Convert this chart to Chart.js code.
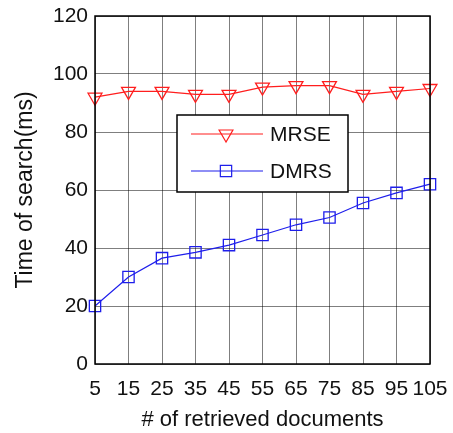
<!DOCTYPE html>
<html>
<head>
<meta charset="utf-8">
<script src="https://cdn.jsdelivr.net/npm/chart.js@4"></script>
<style>
  html, body { margin: 0; padding: 0; background: #fff; }
  #wrap { width: 453px; height: 433px; }
</style>
</head>
<body>
<div id="wrap"><canvas id="grafico" width="453" height="433"></canvas></div>
<script>
// numero de documentos recuperados
const docs = [5, 15, 25, 35, 45, 55, 65, 75, 85, 95, 105];
// tempo de busca (ms)
const mrse = [92, 94, 94, 93, 93, 95.5, 96, 96, 93, 94, 95];
const dmrs = [20, 30, 36.5, 38.5, 41, 44.5, 48, 50.5, 55.5, 59, 62];
const yTicks = [0, 20, 40, 60, 80, 100, 120];

const fonte = "'Liberation Sans', Arial, sans-serif";

// legenda dentro do grafico, estilo matlab
const legendaBox = {
  id: "legendaBox",
  afterDraw(chart) {
    const ctx = chart.ctx;
    const x0 = 177, y0 = 115, w = 171, h = 77;
    ctx.save();
    ctx.fillStyle = "#fff";
    ctx.fillRect(x0, y0, w, h);
    ctx.strokeStyle = "#000";
    ctx.lineWidth = 1.5;
    ctx.strokeRect(x0, y0, w, h);
    chart.data.datasets.forEach((ds, i) => {
      const yy = y0 + 19 + i * 37;
      ctx.strokeStyle = ds.borderColor;
      ctx.lineWidth = 1.2;
      ctx.beginPath();
      ctx.moveTo(x0 + 14, yy);
      ctx.lineTo(x0 + 86, yy);
      ctx.stroke();
      ctx.fillStyle = "rgba(0,0,0,0)";
      Chart.helpers.drawPoint(ctx, {
        pointStyle: ds.pointStyle,
        rotation: ds.pointRotation || 0,
        radius: ds.pointRadius,
        borderWidth: ds.pointBorderWidth
      }, x0 + 49, yy);
      ctx.fillStyle = "#111";
      ctx.font = "21px " + fonte;
      ctx.textBaseline = "middle";
      ctx.fillText(ds.label, x0 + 93, yy + 1);
    });
    ctx.restore();
  }
};

// moldura preta em volta da area do grafico
const moldura = {
  id: "moldura",
  afterDatasetsDraw(chart) {
    const a = chart.chartArea;
    const ctx = chart.ctx;
    ctx.save();
    ctx.strokeStyle = "#000";
    ctx.lineWidth = 1.5;
    ctx.strokeRect(a.left, a.top, a.right - a.left, a.bottom - a.top);
    ctx.restore();
  }
};

new Chart(document.getElementById("grafico"), {
  type: "line",
  data: {
    datasets: [
      {
        label: "MRSE",
        data: docs.map((d, i) => ({ x: d, y: mrse[i] })),
        borderColor: "rgb(255, 30, 30)",
        backgroundColor: "rgba(0,0,0,0)",
        pointStyle: "triangle",
        pointRotation: 180,
        pointRadius: 8,
        pointBorderWidth: 1.3,
        pointBackgroundColor: "rgba(0,0,0,0)",
        borderWidth: 1.2,
        tension: 0,
        clip: false
      },
      {
        label: "DMRS",
        data: docs.map((d, i) => ({ x: d, y: dmrs[i] })),
        borderColor: "rgb(30, 30, 235)",
        backgroundColor: "rgba(0,0,0,0)",
        pointStyle: "rect",
        pointRadius: 8,
        pointBorderWidth: 1.3,
        pointBackgroundColor: "rgba(0,0,0,0)",
        borderWidth: 1.2,
        tension: 0,
        clip: false
      }
    ]
  },
  options: {
    responsive: false,
    animation: false,
    layout: { padding: { left: 0, right: 23, top: 16, bottom: 0 } },
    plugins: {
      legend: { display: false },
      tooltip: { enabled: false }
    },
    scales: {
      x: {
        type: "linear",
        min: 5,
        max: 105,
        afterBuildTicks(axis) {
          axis.ticks = docs.map(v => ({ value: v }));
        },
        afterFit(axis) {
          axis.height = 69;
          axis.paddingLeft = 0;
          axis.paddingRight = 0;
        },
        grid: { color: "rgba(0,0,0,0.5)", lineWidth: 1, tickLength: 0 },
        border: { display: false },
        ticks: {
          color: "#111",
          font: { family: fonte, size: 21 },
          padding: 13,
          maxRotation: 0,
          autoSkip: false
        },
        title: {
          display: true,
          text: "# of retrieved documents",
          color: "#111",
          font: { family: fonte, size: 22 },
          padding: { top: 0, bottom: 0 }
        }
      },
      y: {
        min: 0,
        max: 120,
        afterBuildTicks(axis) {
          axis.ticks = yTicks.map(v => ({ value: v }));
        },
        afterFit(axis) {
          axis.width = 95;
          axis.paddingTop = 0;
          axis.paddingBottom = 0;
        },
        grid: { color: "rgba(0,0,0,0.5)", lineWidth: 1, tickLength: 0 },
        border: { display: false },
        ticks: {
          color: "#111",
          font: { family: fonte, size: 21 },
          padding: 7
        },
        title: {
          display: true,
          text: "Time of search(ms)",
          color: "#111",
          font: { family: fonte, size: 23 },
          padding: { top: 12, bottom: 0 }
        }
      }
    }
  },
  plugins: [moldura, legendaBox]
});
</script>
</body>
</html>
